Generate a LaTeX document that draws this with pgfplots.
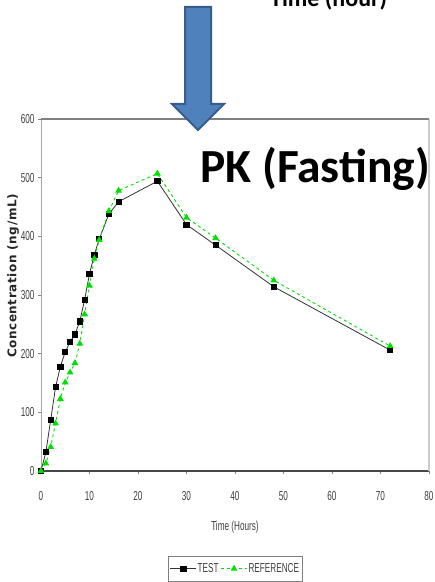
\documentclass[border=0pt]{standalone}
\usepackage{pgfplots}
\pgfplotsset{compat=1.18}
\usepackage{fontspec}
\setmainfont{Liberation Sans}
\newfontfamily\narrow[FakeStretch=0.63]{Liberation Sans}
\newfontfamily\calibri{Carlito}
\newfontfamily\dejavu[LetterSpace=5]{DejaVu Sans}
\definecolor{arrowfill}{HTML}{4F81BD}
\definecolor{arrowline}{HTML}{385D8A}
\definecolor{refgreen}{HTML}{00E000}
\definecolor{ticktext}{HTML}{404040}
\pgfplotstableread{
t c
0 0
1 32
2 87
3 143
4 178
5 203
6 220
7 233
8 255
9 292
10 336
11 369
12 395
14 438
16 459
24 494
30 420
36 385
48 314
72 206
}\testdata
\pgfplotstableread{
t c
0 0
1 13
2 41
3 81
4 123
5 151
6 168
7 184
8 217
9 267
10 316
11 362
12 394
14 443
16 478
24 507
30 432
36 397
48 325
72 213
}\refdata
\begin{document}
\begin{tikzpicture}[x=1pt,y=1pt]
\useasboundingbox (0,0) rectangle (435,582);
\begin{scope}
\clip (0,0) rectangle (435,582);
\begin{axis}[
  at={(41pt,111pt)}, anchor=south west,
  scale only axis, width=388pt, height=352pt,
  xmin=0, xmax=80, ymin=0, ymax=600,
  xtick={0,10,...,80}, ytick={0,100,...,600},
  tick align=outside, xtick pos=left, ytick pos=left,
  major tick length=3pt,
  tick style={color=gray, line width=0.6pt},
  axis line style={draw=gray!70, line width=1pt},
  /pgf/number format/assume math mode=true,
  ticklabel style={font=\narrow\fontsize{13}{15}\selectfont, text=ticktext},
  xticklabel style={yshift=-14pt},
  xlabel={Time (Hours)},
  xlabel style={font=\narrow\fontsize{13}{15}\selectfont, text=ticktext,
    at={(axis description cs:0.5,-0.159)}, anchor=center},
  legend columns=2,
  legend style={at={(0.5,-0.2415)}, anchor=north, draw=gray, line width=0.8pt,
    font=\narrow\fontsize{13}{15}\selectfont, text=ticktext,
    inner xsep=2pt, inner ysep=5pt,
    /tikz/every even column/.append style={column sep=1pt},
    nodes={inner xsep=1pt}},
  legend image code/.code={\draw[mark repeat=2,mark phase=2,#1] plot coordinates {(0pt,0pt) (13pt,0pt) (26pt,0pt)};},
  clip=false,
]
\draw[color=gray!55!black, line width=1.4pt] (rel axis cs:0,0) -- (rel axis cs:1,0);
\draw[color=gray!40, line width=1.4pt] (rel axis cs:1,0) -- (rel axis cs:1,1);
\draw[color=gray, line width=1.4pt] (rel axis cs:0,1) -- (rel axis cs:1,1);
\addplot[color=black!80, line width=0.8pt, mark=square*, mark size=2.6pt,
  mark options={solid, fill=black, draw=black}] table[x=t,y=c] {\testdata};
\addlegendentry{TEST}
\addplot[color=refgreen, dashed, line width=0.9pt, mark=triangle*, mark size=3pt,
  mark options={solid, fill=refgreen, draw=refgreen}] table[x=t,y=c] {\refdata};
\addlegendentry{REFERENCE}
\end{axis}
\node[rotate=90, font=\dejavu\bfseries\fontsize{12}{14}\selectfont, text=black!85] at (13,306) {Concentration (ng/mL)};
\node[anchor=base west, font=\calibri\bfseries\fontsize{47.5}{54}\selectfont, inner sep=0pt] at (200,399) {PK (Fasting)};
\node[anchor=base west, font=\calibri\bfseries\fontsize{24}{28}\selectfont, inner sep=0pt] at (270,575) {Time (hour)};
\draw[fill=arrowfill, draw=arrowline, line width=2pt, line join=miter]
  (185,575) -- (211,575) -- (211,478) -- (224,478) -- (198,452) -- (172,478) -- (185,478) -- cycle;
\end{scope}
\end{tikzpicture}
\end{document}
